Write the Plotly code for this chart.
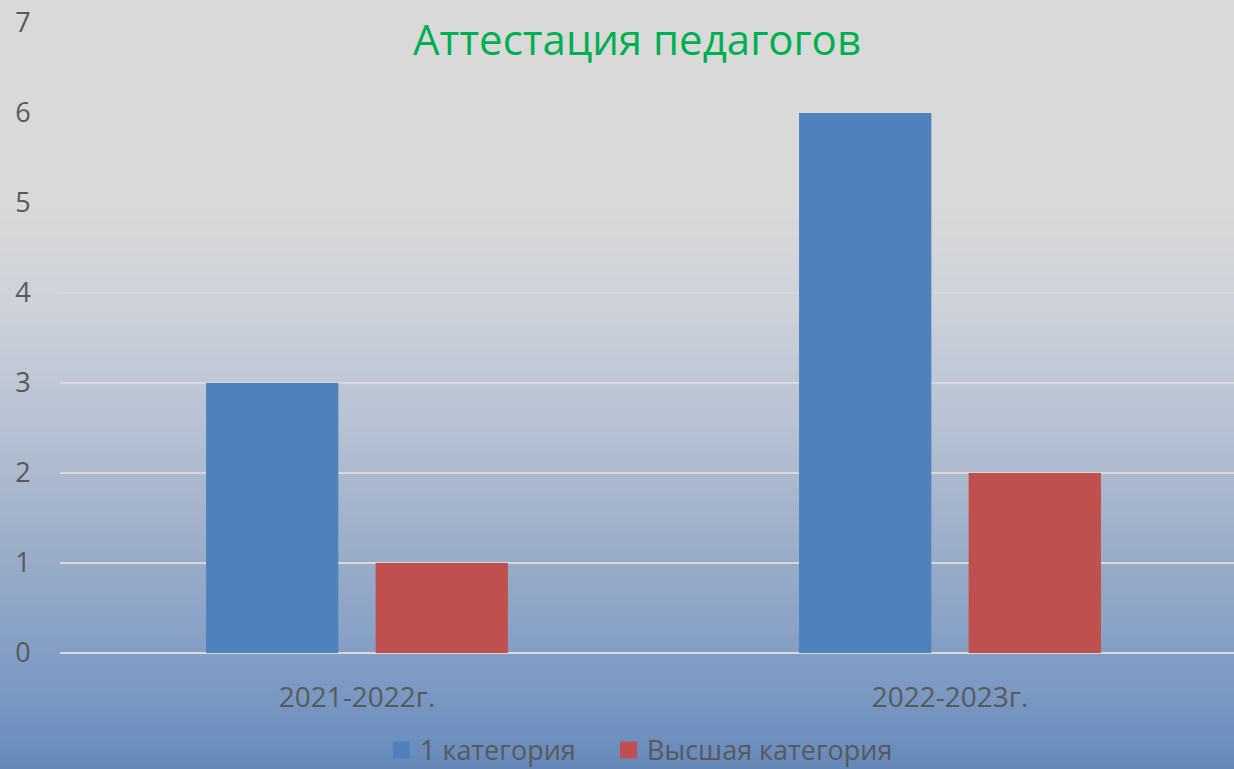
import plotly.graph_objects as go

# ---- data ----
categories = ["2021-2022г.", "2022-2023г."]
series_names = ["1 категория", "Высшая категория"]
values_first = [3, 6]
values_high = [1, 2]
y_ticks = [0, 1, 2, 3, 4, 5, 6, 7]
title_text = "Аттестация педагогов"

# ---- layout constants ----
W, H = 1234, 769
ML, MR, MT, MB = 60, 0, 23, 116
PW, PH = W - ML - MR, H - MT - MB

BLUE = "#4F81BD"
RED = "#C0504D"
TXT = "#595959"
FONT = "Open Sans"
colors = [BLUE, RED]

fig = go.Figure()
fig.add_trace(go.Bar(x=categories, y=values_first, name=series_names[0],
                     marker=dict(color=BLUE, line=dict(width=0)), showlegend=False))
fig.add_trace(go.Bar(x=categories, y=values_high, name=series_names[1],
                     marker=dict(color=RED, line=dict(width=0)), showlegend=False))

# gradient background built from horizontal strips
stops = [(0, (217, 217, 217)), (200, (217, 217, 217)), (300, (206, 210, 218)),
         (420, (184, 194, 212)), (540, (157, 175, 200)), (660, (130, 157, 197)),
         (700, (120, 152, 194)), (750, (106, 141, 190)), (769, (101, 135, 184))]

def col_at(py):
    for (a, ca), (b, cb) in zip(stops[:-1], stops[1:]):
        if a <= py <= b:
            t = (py - a) / (b - a) if b > a else 0
            c = [round(ca[i] + (cb[i] - ca[i]) * t) for i in range(3)]
            return "rgb(%d,%d,%d)" % tuple(c)
    return "rgb(%d,%d,%d)" % stops[-1][1]

def py_to_paper(py):
    return (H - MB - py) / PH

def px_to_paper(px):
    return (px - ML) / PW

shapes = []
step = 4
for py in range(0, H, step):
    shapes.append(dict(type="rect", xref="paper", yref="paper",
                       x0=-ML / PW - 0.01, x1=1.01,
                       y0=py_to_paper(py + step + 0.5), y1=py_to_paper(py),
                       fillcolor=col_at(py + step / 2), line=dict(width=0),
                       layer="below"))

# manual legend (squares + labels)
annotations = []
legend_sq_x = [393, 620]
legend_cy = 750
sq = 17
for name, c, sx in zip(series_names, colors, legend_sq_x):
    shapes.append(dict(type="rect", xref="paper", yref="paper",
                       x0=px_to_paper(sx), x1=px_to_paper(sx + sq),
                       y0=py_to_paper(legend_cy + sq / 2), y1=py_to_paper(legend_cy - sq / 2),
                       fillcolor=c, line=dict(width=0), layer="above"))
    annotations.append(dict(text=name, xref="paper", yref="paper",
                            x=px_to_paper(sx + sq + 8), y=py_to_paper(legend_cy),
                            xanchor="left", yanchor="middle", showarrow=False,
                            font=dict(family=FONT, size=27, color=TXT)))

fig.update_layout(
    width=W, height=H,
    margin=dict(l=ML, r=MR, t=MT, b=MB, pad=0),
    paper_bgcolor="#D9D9D9",
    plot_bgcolor="rgba(0,0,0,0)",
    shapes=shapes,
    annotations=annotations,
    barmode="group",
    bargap=0.428,
    bargroupgap=0.22,
    font=dict(family=FONT, color=TXT, size=28),
    title=dict(text=title_text, font=dict(family=FONT, size=42, color="#00B050"),
               x=637 / W, xref="container", xanchor="center",
               y=1 - 40 / H, yref="container", yanchor="middle"),
    xaxis=dict(range=[-0.5008, 1.4789], showgrid=False, zeroline=False,
               showline=False, ticks="outside", ticklen=19,
               tickcolor="rgba(0,0,0,0)", tickfont=dict(size=28, color=TXT)),
    yaxis=dict(range=[0, 7], tickvals=y_ticks, showgrid=True,
               gridcolor="#D9D9D9", gridwidth=2, zeroline=True,
               zerolinecolor="#D9D9D9", zerolinewidth=2, showline=False,
               ticks="outside", ticklen=23, tickcolor="rgba(0,0,0,0)",
               tickfont=dict(size=27, color=TXT)),
    showlegend=False,
)

fig.write_html("out.html", config={"displayModeBar": False},
               post_script="document.body.style.margin='0';document.body.style.overflow='hidden';")
